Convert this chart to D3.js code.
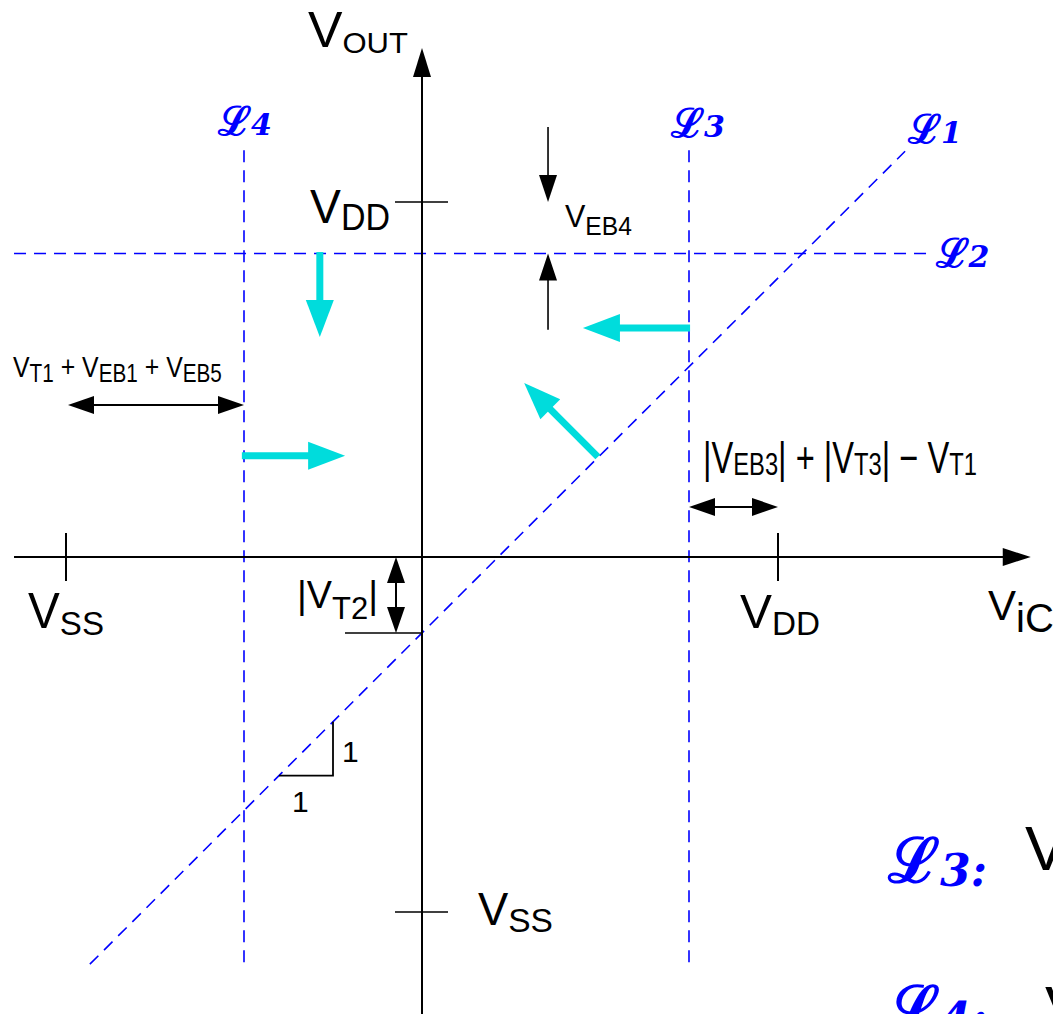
<!DOCTYPE html>
<html>
<head>
<meta charset="utf-8">
<script src="https://cdn.jsdelivr.net/npm/d3@7"></script>
<style>
  html, body { margin: 0; padding: 0; background: #fff; overflow: hidden; }
  svg { display: block; }
</style>
</head>
<body>
<svg id="chart" width="1053" height="1014"></svg>
<script>
// Transfer-characteristic sketch: output voltage vs. input common-mode voltage.
// Voltages are normalised so that VSS = -1 and VDD = +1.

const xTickValues = [-1, 1];
const xTickLabels = [["V", "SS"], ["V", "DD"]];
const yTickValues = [1, -1];
const yTickLabels = [["V", "DD"], ["V", "SS"]];

const vt2 = 0.214;          // |VT2|: offset of the unity-slope line
const l2Level = 0.855;      // L2: VDD - VEB4
const l3Level = 0.75;       // L3: VDD - (|VEB3| + |VT3| - VT1)
const l4Level = -0.5;       // L4: VSS + VT1 + VEB1 + VEB5
const lineNames = ["1", "2", "3", "4"];

// Direction of movement in each region: [from, to] in (vIC, vOUT)
const flowFrom = [[-0.287, 0.859], [0.753, 0.645], [0.494, 0.282], [-0.506, 0.285]];
const flowTo   = [[-0.287, 0.62],  [0.452, 0.645], [0.287, 0.49],  [-0.216, 0.285]];

const BLUE = "#0000ff";
const CYAN = "#00dcdc";
const SANS = "'Liberation Sans', Arial, Helvetica, sans-serif";

const svg = d3.select("#chart");
const x = d3.scaleLinear().domain([-1, 1]).range([66, 778]);
const y = d3.scaleLinear().domain([-1, 1]).range([912, 202]);

// ---------- helpers ----------
function head(g, tx, ty, angle, len, wid, fill) {
  const ca = Math.cos(angle), sa = Math.sin(angle);
  const bx = tx - ca * len, by = ty - sa * len;
  const px = -sa * wid / 2, py = ca * wid / 2;
  g.append("path")
    .attr("d", `M${tx},${ty}L${bx + px},${by + py}L${bx - px},${by - py}Z`)
    .attr("fill", fill);
}

function arrow(g, x1, y1, x2, y2, opt) {
  const a = Math.atan2(y2 - y1, x2 - x1);
  const sx = x2 - Math.cos(a) * opt.len * 0.9, sy = y2 - Math.sin(a) * opt.len * 0.9;
  g.append("line").attr("x1", x1).attr("y1", y1).attr("x2", sx).attr("y2", sy)
    .attr("stroke", opt.color).attr("stroke-width", opt.sw);
  head(g, x2, y2, a, opt.len, opt.wid, opt.color);
}

function dblArrow(g, x1, y1, x2, y2) {
  const a = Math.atan2(y2 - y1, x2 - x1);
  const L = 26, Wd = 18;
  g.append("line")
    .attr("x1", x1 + Math.cos(a) * L * 0.9).attr("y1", y1 + Math.sin(a) * L * 0.9)
    .attr("x2", x2 - Math.cos(a) * L * 0.9).attr("y2", y2 - Math.sin(a) * L * 0.9)
    .attr("stroke", "#000").attr("stroke-width", 2);
  head(g, x2, y2, a, L, Wd, "#000");
  head(g, x1, y1, a + Math.PI, L, Wd, "#000");
}

// Text with subscripts; parts = [[string, isSub], ...]. Optional width fits the run horizontally.
function label(g, parts, x0, y0, o) {
  const t = g.append("text")
    .attr("font-family", o.family || SANS)
    .attr("fill", o.fill || "#000")
    .attr("font-weight", o.weight || "normal")
    .attr("x", 0).attr("y", 0)
    .attr("transform", `translate(${x0},${y0})`);
  let off = 0;
  parts.forEach(([s, sub]) => {
    const target = sub ? o.drop : 0;
    const ts = t.append("tspan").text(s)
      .attr("font-size", sub ? o.sub : o.main)
      .attr("dy", target - off);
    if (sub && o.subFamily) ts.attr("font-family", o.subFamily);
    if (sub && o.subStyle) ts.attr("font-style", o.subStyle);
    off = target;
  });
  if (o.width) {
    const w = t.node().getBBox().width;
    t.attr("transform", `translate(${x0},${y0}) scale(${o.width / w},1)`);
  }
  return t;
}

// ---------- boundary lines L1..L4 ----------
const gl = svg.append("g").attr("stroke", BLUE).attr("stroke-width", 1.6)
  .attr("stroke-dasharray", "12,8").attr("fill", "none");

// L1: vOUT = vIC - |VT2|
gl.append("line")
  .attr("x1", x(-0.933)).attr("y1", y(-0.933 - vt2))
  .attr("x2", x(1.357)).attr("y2", y(1.357 - vt2));
// L2
gl.append("line")
  .attr("x1", x(-1.146)).attr("y1", y(l2Level))
  .attr("x2", x(1.42)).attr("y2", y(l2Level));
// L3, L4
[l3Level, l4Level].forEach(v => {
  gl.append("line")
    .attr("x1", x(v)).attr("y1", y(1.146))
    .attr("x2", x(v)).attr("y2", y(-1.15));
});

// ---------- axes ----------
const ga = svg.append("g");
ga.append("line").attr("x1", x(-1.146)).attr("y1", y(0)).attr("x2", x(1.68)).attr("y2", y(0))
  .attr("stroke", "#000").attr("stroke-width", 2);
head(ga, x(1.71), y(0), 0, 28, 18, "#000");
ga.append("line").attr("x1", x(0)).attr("y1", y(-1.3)).attr("x2", x(0)).attr("y2", y(1.40))
  .attr("stroke", "#000").attr("stroke-width", 2);
head(ga, x(0), y(1.434), -Math.PI / 2, 29, 18, "#000");

xTickValues.forEach((v, i) => {
  ga.append("line").attr("x1", x(v)).attr("x2", x(v)).attr("y1", y(0) - 24).attr("y2", y(0) + 24)
    .attr("stroke", "#000").attr("stroke-width", 2);
  label(ga, [[xTickLabels[i][0], false], [xTickLabels[i][1], true]],
    x(v) - 38, y(0) + 71, { main: 49, sub: 34, drop: 7, width: v < 0 ? 76 : 80 });
});
yTickValues.forEach((v, i) => {
  ga.append("line").attr("y1", y(v)).attr("y2", y(v)).attr("x1", x(0) - 27).attr("x2", x(0) + 26)
    .attr("stroke", "#000").attr("stroke-width", 1.6);
  if (v > 0) {
    label(ga, [[yTickLabels[i][0], false], [yTickLabels[i][1], true]],
      310, y(v) + 21, { main: 49, sub: 36, drop: 7, width: 80 });
  } else {
    label(ga, [[yTickLabels[i][0], false], [yTickLabels[i][1], true]],
      478, y(v) + 13, { main: 46, sub: 34, drop: 7, width: 75 });
  }
});

// axis titles
label(ga, [["V", false], ["OUT", true]], 308, 47, { main: 50, sub: 30, drop: 6, width: 100 });
label(ga, [["V", false], ["iC", true]], 988, 620, { main: 42, sub: 40, drop: 12 });

// ---------- dimension markers ----------
const gd = svg.append("g");

// |VT2|
gd.append("line").attr("x1", 345).attr("x2", x(0)).attr("y1", y(-vt2)).attr("y2", y(-vt2))
  .attr("stroke", "#000").attr("stroke-width", 1.6);
dblArrow(gd, 396, y(0), 396, y(-vt2));
label(gd, [["|V", false], ["T2", true], ["|", false]], 297, y(0) + 51,
  { main: 39, sub: 32, drop: 11, width: 81 });

// VEB4 between VDD and L2
arrow(gd, x(0.354), y(1.211), x(0.354), y(1), { color: "#000", sw: 1.6, len: 27, wid: 18 });
arrow(gd, x(0.354), y(0.64), x(0.354), y(l2Level), { color: "#000", sw: 1.6, len: 27, wid: 18 });
label(gd, [["V", false], ["EB4", true]], 565, 227, { main: 31, sub: 25, drop: 8, width: 67 });

// VT1 + VEB1 + VEB5 between VSS and L4
dblArrow(gd, x(-1) + 2, y(0.428), x(l4Level), y(0.428));
label(gd, [["V", false], ["T1", true], [" + ", false], ["V", false], ["EB1", true],
  [" + ", false], ["V", false], ["EB5", true]], 13, 377,
  { main: 30, sub: 25, drop: 5, width: 209 });

// |VEB3| + |VT3| - VT1 between L3 and VDD
dblArrow(gd, x(l3Level), y(0.141), x(1), y(0.141));
label(gd, [["|V", false], ["EB3", true], ["| + |V", false], ["T3", true], ["| \u2212 V", false], ["T1", true]],
  703, 473, { main: 44, sub: 32, drop: 2, width: 274 });

// unity slope triangle on L1
const tx0 = -0.402, run = 0.152;
gd.append("path")
  .attr("d", `M${x(tx0)},${y(tx0 - vt2)}H${x(tx0 + run)}V${y(tx0 + run - vt2)}`)
  .attr("fill", "none").attr("stroke", "#000").attr("stroke-width", 1.8);
gd.append("text").attr("x", x(tx0 + run) + 9).attr("y", 762).attr("font-family", SANS)
  .attr("font-size", 30).text("1");
gd.append("text").attr("x", x(tx0) + 13).attr("y", 812).attr("font-family", SANS)
  .attr("font-size", 30).text("1");

// ---------- flow arrows ----------
const gf = svg.append("g");
flowFrom.forEach((f, i) => {
  const t = flowTo[i];
  arrow(gf, x(f[0]), y(f[1]), x(t[0]), y(t[1]), { color: CYAN, sw: 7, len: 37, wid: 28 });
});

// ---------- line names ----------
const gn = svg.append("g");
const nameOpt = { main: 40, sub: 30, drop: 0, fill: BLUE, weight: "bold",
  family: "'DejaVu Serif', serif", subFamily: "'DejaVu Serif', serif", subStyle: "italic" };
const namePos = [
  [x(1.357) + 3, y(1.357 - vt2) - 8],   // L1
  [x(1.42) + 8, y(l2Level) + 14],        // L2
  [x(l3Level) - 18, 137],                // L3
  [x(l4Level) - 26, 135]                 // L4
];
lineNames.forEach((n, i) => {
  label(gn, [["\u2112", false], [n, true]], namePos[i][0], namePos[i][1], nameOpt);
});

// legend lines (continue past the right edge)
const legendOpt = Object.assign({}, nameOpt, { main: 62, sub: 44, drop: 4 });
label(gn, [["\u2112", false], ["3", true], [":", true]], 888, 882, legendOpt);
label(gn, [["\u2112", false], ["4", true], [":", true]], 888, 1030, legendOpt);
svg.append("text").attr("x", 1025).attr("y", 870).attr("font-family", SANS)
  .attr("font-size", 63).text("V");
svg.append("text").attr("x", 1045).attr("y", 1030).attr("font-family", SANS)
  .attr("font-size", 63).text("V");
</script>
</body>
</html>
